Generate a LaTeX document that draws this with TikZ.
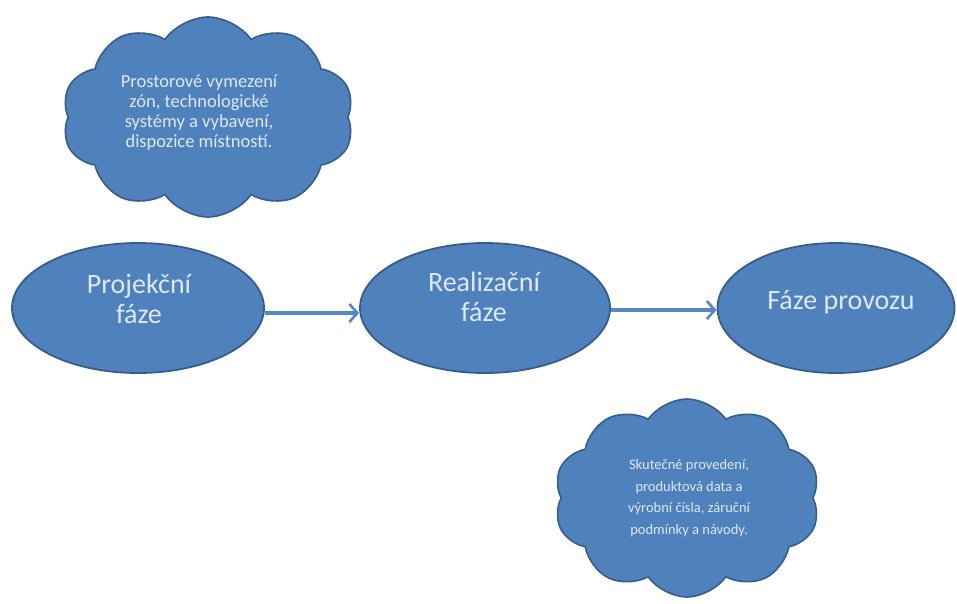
\documentclass[tikz,border=0pt]{standalone}
\usepackage{fontspec}
\setmainfont{Carlito}
\usetikzlibrary{shapes.geometric,shapes.symbols,arrows.meta}
\definecolor{fillblue}{RGB}{79,129,189}
\definecolor{edgeblue}{RGB}{56,93,138}
\definecolor{arrowblue}{RGB}{84,136,196}
\definecolor{txt}{RGB}{222,232,243}
\tikzset{
  phase/.style={ellipse, draw=edgeblue, line width=1.8pt, fill=fillblue, inner sep=0pt},
  phasetext/.style={text=txt, font=\fontsize{28}{30}\selectfont, align=center},
  bubble/.style={cloud, cloud puffs=10, cloud puff arc=110, aspect=1.45, draw=edgeblue, line width=1.6pt,
    fill=fillblue, inner sep=0pt},
  bubbletext/.style={text=txt, align=center},
  flow/.style={draw=arrowblue, line width=3.4pt, -{Straight Barb[length=8pt,width=18pt,line width=2.6pt]}}
}
\begin{document}
\begin{tikzpicture}[x=1pt,y=-1pt]
\useasboundingbox (0,0) rectangle (957,603);
\node[bubble, minimum width=292pt, minimum height=200pt] (c1) at (208,117) {};
\node[bubbletext, font=\fontsize{18.5}{20}\selectfont] (c1t) at (199,113)
  {Prostorové vymezení\\zón, technologické\\systémy a vybavení,\\dispozice místností.};
\node[bubble, minimum width=266pt, minimum height=198pt] (c2) at (687,498) {};
\node[bubbletext, font=\fontsize{14.5}{21.5}\selectfont] (c2t) at (689,498)
  {Skutečné provedení,\\produktová data a\\výrobní čísla, záruční\\podmínky a návody.};
\node[phase, minimum width=252pt, minimum height=130pt] (p1) at (138,308) {};
\node[phase, minimum width=250pt, minimum height=130pt] (p2) at (485,308) {};
\node[phase, minimum width=237pt, minimum height=130pt] (p3) at (836,308) {};
\node[phasetext] (t1) at (139,299) {Projekční\\fáze};
\node[phasetext] (t2) at (484,297) {Realizační\\fáze};
\node[phasetext] (t3) at (841,302) {Fáze provozu};
\draw[flow] (p1.east |- 0,313) -- (p2.west |- 0,313);
\draw[flow] (p2.east |- 0,310) -- (p3.west |- 0,310);
\end{tikzpicture}
\end{document}
